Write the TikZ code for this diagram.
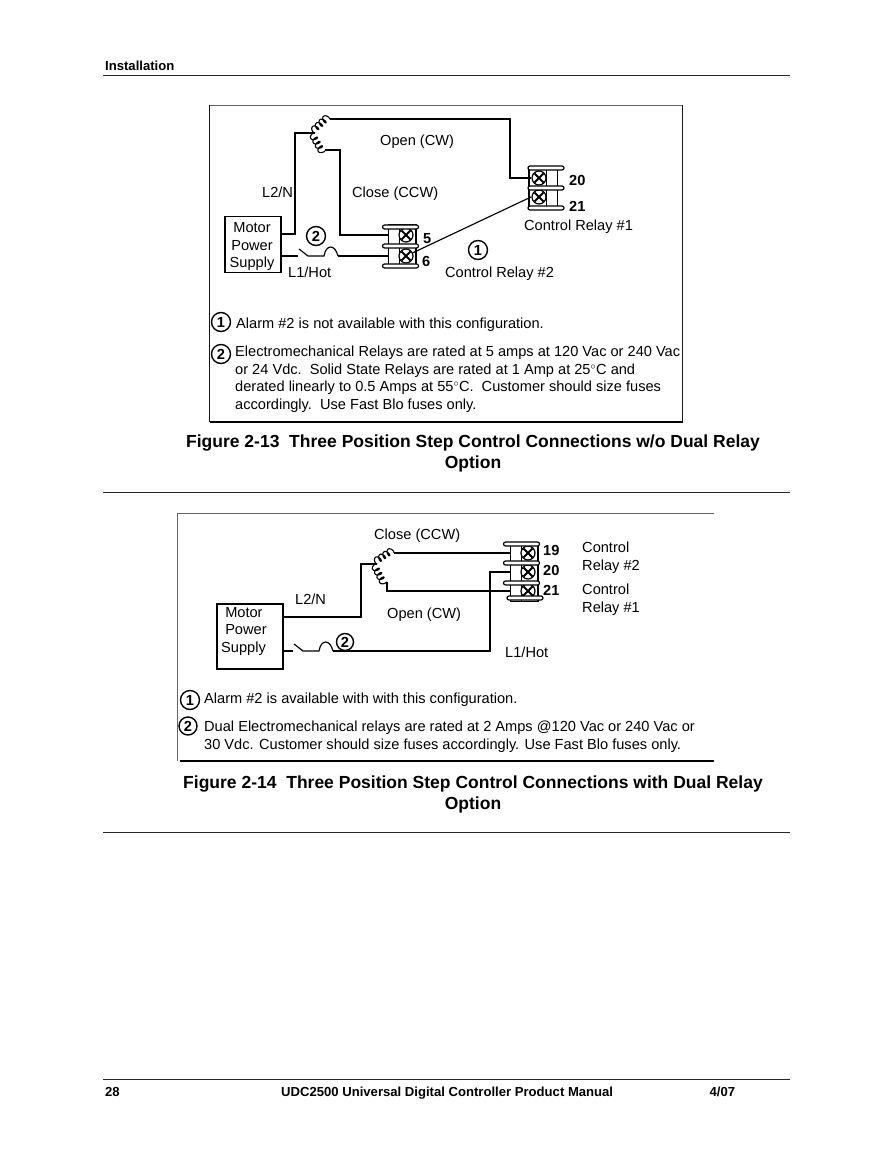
\documentclass[tikz,border=0pt]{standalone}
\usepackage{fontspec}
\setmainfont{Liberation Sans}
\newcommand{\txtsize}{\fontsize{14.6}{17.5}\selectfont}
\newcommand{\capsize}{\fontsize{17.5}{21}\selectfont\bfseries}
\newcommand{\runsize}{\fontsize{13.1}{15}\selectfont\bfseries}
\tikzset{
winding/.pic={
\draw[line width=1.1pt] plot[smooth,samples=90,domain=0:1] ({20*\x-1.8*sin(1440*\x)},{3.2-3.2*cos(1440*\x)});
},
terminal/.pic={
\draw[line width=1pt] (-18,-10) rectangle (10,10);
\draw[line width=1pt] (-7,-10) -- (-7,10);
\draw[line width=2.2pt] (10,-10) -- (10,10);
\node[circle,draw,line width=1.2pt,fill=white,minimum size=14pt,inner sep=0pt] (-screw) at (0,0) {};
\draw[line width=1.8pt] (-4.5,-4.5) -- (4.5,4.5) (-4.5,4.5) -- (4.5,-4.5);
\coordinate (-in) at (-18,0);
\coordinate (-tap) at (8,0);
},
breaker/.pic={
\coordinate (-in) at (0,0);
\coordinate (-out) at (40,0);
\draw[line width=1.15pt] (1,-7) -- (10,0) -- (26,0) .. controls (28,-12) and (37,-12) .. (40,0);
}
}
\begin{document}
\begin{tikzpicture}[x=1pt,y=-1pt,font=\txtsize]
\tikzstyle{wire}=[line width=1.15pt]
\tikzstyle{frameline}=[line width=.7pt,black!60]
\tikzstyle{sideline}=[line width=1pt,black!90]
\tikzstyle{pagerule}=[line width=.9pt,black!85]
\tikzstyle{termcap}=[draw,line width=1.2pt,fill=white,rounded corners=2pt,minimum width=36pt,minimum height=4pt,inner sep=0pt]
\tikzstyle{supply}=[draw,line width=1.1pt,inner sep=0pt]
\tikzstyle{badge}=[circle,draw,line width=1.4pt,minimum size=19pt,inner sep=0pt,font=\txtsize\bfseries]
\tikzstyle{textlab}=[anchor=base west,inner sep=0pt]
\tikzstyle{numlab}=[anchor=base west,inner sep=0pt,font=\fontsize{14.6}{16}\selectfont\bfseries]
\tikzstyle{figcap}=[align=center,inner sep=0pt,font=\capsize]
\tikzstyle{running}=[anchor=base west,inner sep=0pt,font=\runsize]
\useasboundingbox (0,0) rectangle (892,1155);
\fill[white] (0,0) rectangle (892,1155);

% page furniture
\coordinate (head l) at (103,75); \coordinate (head r) at (790,75);
\coordinate (mid l) at (103,492); \coordinate (mid r) at (790,492);
\coordinate (end l) at (103,832); \coordinate (end r) at (790,832);
\coordinate (foot l) at (103,1079); \coordinate (foot r) at (790,1079);
\draw[pagerule] (head l) -- (head r);
\draw[pagerule] (mid l) -- (mid r);
\draw[pagerule] (end l) -- (end r);
\draw[pagerule] (foot l) -- (foot r);
\node(install)[running] at (105,70.5) {Installation};
\node(pagenum)[running] at (105,1096) {28};
\node(manual)[running] at (281,1096) {UDC2500 Universal Digital Controller Product Manual};
\node(date)[running] at (709.5,1096) {4/07};

% upper frame
\coordinate (a nw) at (209.5,105); \coordinate (a ne) at (682.5,105);
\coordinate (a sw) at (209.5,422); \coordinate (a se) at (682.5,422);
\draw[frameline] (a nw) -- (a ne);
\draw[sideline] (a nw) -- (a sw);
\draw[sideline] (a ne) -- (a se);
\draw[wire] (a sw) -- (a se);

% upper circuit
\node(supply a)[supply,minimum width=56pt,minimum height=56pt] at (253,244.5) {};
\node(supply a txt)[align=center,inner sep=0pt] at (252,246.5) {Motor\\Power\\Supply};
\coordinate (coil a) at (315,133);
\coordinate (open a) at (330,119);
\coordinate (close a) at (325,150);
\pic at (coil a) [rotate=43,yscale=-1] {winding};
\pic at (coil a) [rotate=-60] {winding};
\pic (t5) at (406,235) {terminal};
\pic (t6) at (406,256) {terminal};
\pic[xscale=-1] (t20) at (539,178) {terminal};
\pic[xscale=-1] (t21) at (539,197) {terminal};
\node(cap a1)[termcap] at (400.5,227) {};
\node(cap a2)[termcap] at (400.5,246) {};
\node(cap a3)[termcap] at (400.5,266) {};
\node(cap b1)[termcap] at (546,168) {};
\node(cap b2)[termcap] at (546,188) {};
\node(cap b3)[termcap] at (546,208) {};
\pic (brk a) at (298,256) {breaker};
\coordinate (s2n a) at (281,234);
\coordinate (s1 a) at (281,256);
\draw[wire] (s2n a) -| (295,133) -- (coil a);
\draw[wire] (open a) -- (510,119) |- (t20-tap);
\draw[wire] (close a) -- (340,150) |- (t5-in);
\draw[wire] (s1 a) -- (brk a-in);
\draw[wire] (brk a-out) -- (t6-in);
\draw[wire] (t6-screw) -- (t21-tap);
\node(lab l2 a)[textlab] at (262,198) {L2/N};
\node(lab open a)[textlab] at (380,146) {Open (CW)};
\node(lab close a)[textlab] at (352,198) {Close (CCW)};
\node(lab hot a)[textlab] at (288,277) {L1/Hot};
\node(lab r2 a)[textlab] at (445,277) {Control Relay \#2};
\node(lab r1 a)[textlab] at (524,231) {Control Relay \#1};
\node(n5)[numlab] at (423,244) {5};
\node(n6)[numlab] at (422,267) {6};
\node(n20)[numlab] at (569,186) {20};
\node(n21)[numlab] at (569,212) {21};
\node(m2 a)[badge] at (316,236) {2};
\node(m1 a)[badge] at (478,250) {1};

% upper notes
\node(note m1 a)[badge] at (221,322) {1};
\node(note m2 a)[badge] at (221,354) {2};
\node(note1 a)[textlab] at (236,328) {Alarm \#2 is not available with this configuration.};
\node(note2 a)[textlab,align=left,anchor=north west] at (235,346) {Electromechanical Relays are rated at 5 amps at 120 Vac or 240 Vac\\or 24 Vdc.\ \ Solid State Relays are rated at 1 Amp at 25$^{\circ}$C and\\derated linearly to 0.5 Amps at 55$^{\circ}$C.\ \ Customer should size fuses\\accordingly.\ \ Use Fast Blo fuses only.};
\node(cap fig a)[figcap] at (473,453.5) {Figure 2-13\ \ Three Position Step Control Connections w/o Dual Relay\\Option};

% lower frame
\coordinate (b nw) at (177.5,513); \coordinate (b ne) at (714,513);
\coordinate (b sw) at (177.5,761); \coordinate (b se) at (714,761);
\draw[frameline] (b ne) -- (b nw) -- (b sw);
\draw[wire] (180,761) -- (b se);

% lower circuit
\node(supply b)[supply,minimum width=66pt,minimum height=65pt] at (250,636.5) {};
\node(supply b txt)[align=left,anchor=north west,inner sep=0pt] at (221,607) {\ Motor\\\ Power\\Supply};
\coordinate (coil b) at (377,564);
\coordinate (close b) at (394,553);
\coordinate (open b) at (387,582);
\pic at (coil b) [rotate=33,yscale=-1] {winding};
\pic at (coil b) [rotate=-62] {winding};
\pic (t19) at (528,553) {terminal};
\pic (t20b) at (528,572) {terminal};
\pic (t21b) at (528,591) {terminal};
\node(cap c1)[termcap] at (521.5,544) {};
\node(cap c2)[termcap] at (521.5,563) {};
\node(cap c3)[termcap] at (521.5,583) {};
\node(cap c4)[termcap] at (525,598) {};
\pic (brk b) at (293,651) {breaker};
\coordinate (s2n b) at (283,617);
\coordinate (s1 b) at (283,651);
\draw[wire] (s2n b) -- (361,617) |- (coil b);
\draw[wire] (close b) -- (t19-in);
\draw[wire] (open b) |- (t21b-in);
\draw[wire] (s1 b) -- (brk b-in);
\draw[wire] (brk b-out) -- (490,651) |- (t20b-in);
\node(lab close b)[textlab] at (374,539) {Close (CCW)};
\node(lab open b)[textlab] at (387,618) {Open (CW)};
\node(lab l2 b)[textlab] at (295,604) {L2/N};
\node(lab hot b)[textlab] at (505,657) {L1/Hot};
\node(lab r2 b)[textlab,align=left,anchor=north west] at (582,542) {Control\\Relay \#2};
\node(lab r1 b)[textlab,align=left,anchor=north west] at (582,584) {Control\\Relay \#1};
\node(n19)[numlab] at (543,555) {19};
\node(n20b)[numlab] at (543,575) {20};
\node(n21b)[numlab] at (543,595) {21};
\node(m2 b)[badge,minimum size=17pt] at (345,642) {2};

% lower notes
\node(note m1 b)[badge] at (190,700) {1};
\node(note m2 b)[badge,minimum size=18pt] at (188,726) {2};
\node(note1 b)[textlab] at (204,703) {Alarm \#2 is available with with this configuration.};
\node(note2 b)[textlab,align=left,anchor=north west] at (204,721) {Dual Electromechanical relays are rated at 2 Amps @120 Vac or 240 Vac or\\30 Vdc. Customer should size fuses accordingly. Use Fast Blo fuses only.};
\node(cap fig b)[figcap] at (473,794) {Figure 2-14\ \ Three Position Step Control Connections with Dual Relay\\Option};
\end{tikzpicture}
\end{document}
